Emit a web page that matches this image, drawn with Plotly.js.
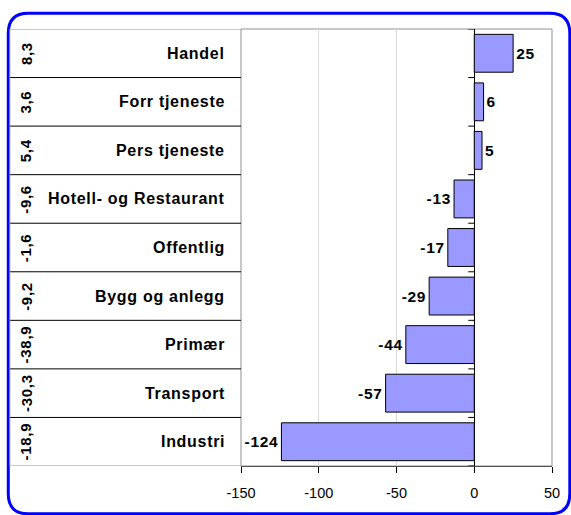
<!DOCTYPE html>
<html>
<head>
<meta charset="utf-8">
<script src="https://cdn.plot.ly/plotly-3.0.1.min.js"></script>
<style>
  html, body { margin: 0; padding: 0; background: #fff; }
  .annotation-text, .bartext { letter-spacing: 0.7px; }
</style>
</head>
<body>
<div id="chart" style="width:571px;height:515px;"></div>
<script>
// ---- data (top row first) ----
const categories = ["Handel", "Forr tjeneste", "Pers tjeneste", "Hotell- og Restaurant", "Offentlig", "Bygg og anlegg", "Primær", "Transport", "Industri"];
const changes = [25, 6, 5, -13, -17, -29, -44, -57, -124];
const sideValues = ["8,3", "3,6", "5,4", "-9,6", "-1,6", "-9,2", "-38,9", "-30,3", "-18,9"];
const xTickValues = [-150, -100, -50, 0, 50];

// ---- layout geometry (pixels) ----
const W = 571, H = 515;
const L = 241, R = 551.7, T = 29.3, B = 465.7;
const px = x => (x - L) / (R - L);
const py = y => (B - y) / (B - T);

const font = "'Liberation Sans', Arial, Helvetica, sans-serif";

const trace = {
  type: 'bar',
  orientation: 'h',
  y: categories,
  x: changes,
  width: 0.78,
  marker: { color: '#9999FF', line: { color: '#000000', width: 1 } },
  text: changes.map(String),
  textposition: 'outside',
  constraintext: 'none',
  cliponaxis: false,
  textfont: { family: font, size: 15.5, color: '#000', weight: 'bold' },
  hoverinfo: 'skip'
};

const shapes = [];
// blue rounded outer border
(function () {
  const x0 = 8.5, y0 = 13.5, x1 = 569.5, y1 = 513.5, r = 20;
  const P = (x, y) => px(x) + ',' + py(y);
  const path = 'M' + P(x0 + r, y0) + ' L' + P(x1 - r, y0) + ' Q' + P(x1, y0) + ' ' + P(x1, y0 + r) +
    ' L' + P(x1, y1 - r) + ' Q' + P(x1, y1) + ' ' + P(x1 - r, y1) +
    ' L' + P(x0 + r, y1) + ' Q' + P(x0, y1) + ' ' + P(x0, y1 - r) +
    ' L' + P(x0, y0 + r) + ' Q' + P(x0, y0) + ' ' + P(x0 + r, y0) + ' Z';
  shapes.push({ type: 'path', xref: 'paper', yref: 'paper', path: path, line: { color: '#0000FF', width: 3 }, layer: 'above' });
})();
// plot frame
shapes.push({ type: 'rect', xref: 'paper', yref: 'paper', x0: 0, x1: 1, y0: 0, y1: 1, line: { color: '#909090', width: 1 }, layer: 'below' });
// table lines
const tableLeft = px(10);
for (let i = -1; i < categories.length; i++) {
  const edge = (i === -1 || i === categories.length - 1);
  shapes.push({ type: 'line', xref: 'paper', yref: 'y', x0: tableLeft, x1: 0, y0: i + 0.5, y1: i + 0.5,
    line: { color: edge ? '#909090' : '#000000', width: 1 } });
}
shapes.push({ type: 'line', xref: 'paper', yref: 'y', x0: tableLeft, x1: tableLeft, y0: -0.5, y1: categories.length - 0.5,
  line: { color: '#909090', width: 1 } });
// small ticks on the zero line at row boundaries
for (let i = -1; i < categories.length; i++) {
  shapes.push({ type: 'line', xref: 'x', yref: 'y', xsizemode: 'pixel', xanchor: 0, x0: -6, x1: 0,
    y0: i + 0.5, y1: i + 0.5, line: { color: '#000', width: 1 } });
}

const annotations = [];
categories.forEach((c, i) => {
  annotations.push({ xref: 'paper', yref: 'y', x: px(227), y: c, text: c, showarrow: false,
    xanchor: 'right', yanchor: 'middle', font: { family: font, size: 16, color: '#000', weight: 'bold' } });
  annotations.push({ xref: 'paper', yref: 'y', x: px(26), y: c, text: sideValues[i], showarrow: false,
    textangle: -90, xanchor: 'center', yanchor: 'middle', font: { family: font, size: 15, color: '#000', weight: 'bold' } });
});

const layout = {
  width: W, height: H,
  margin: { l: L, r: W - R, t: T, b: H - B, pad: 0 },
  paper_bgcolor: '#ffffff',
  plot_bgcolor: '#ffffff',
  showlegend: false,
  bargap: 0.22,
  font: { family: font, size: 14, color: '#000' },
  xaxis: {
    range: [-150, 50],
    tickvals: xTickValues,
    ticktext: xTickValues.map(String),
    showgrid: true, gridcolor: '#d9d9d9', gridwidth: 1,
    zeroline: true, zerolinecolor: '#000', zerolinewidth: 1,
    showline: true, linecolor: '#505050', linewidth: 1,
    ticks: 'outside', ticklen: 6, tickcolor: '#000', tickwidth: 1,
    ticklabelstandoff: 8,
    tickfont: { family: font, size: 14.5, color: '#000' },
    fixedrange: true
  },
  yaxis: {
    type: 'category',
    categoryorder: 'array', categoryarray: categories,
    range: [categories.length - 0.5, -0.5],
    showticklabels: false, showgrid: false, zeroline: false, showline: false, ticks: '',
    fixedrange: true
  },
  shapes: shapes,
  annotations: annotations
};

Plotly.newPlot('chart', [trace], layout, { staticPlot: true, displayModeBar: false });
</script>
</body>
</html>
